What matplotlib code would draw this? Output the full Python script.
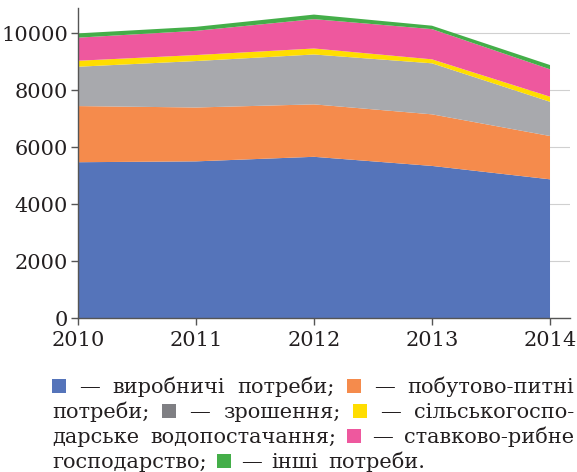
import matplotlib
matplotlib.use("Agg")
import matplotlib.pyplot as plt
from matplotlib.patches import Rectangle

years = [2010, 2011, 2012, 2013, 2014]
industrial = [5470, 5500, 5660, 5340, 4870]
household = [1970, 1890, 1840, 1810, 1520]
irrigation = [1380, 1630, 1750, 1790, 1200]
rural_supply = [210, 210, 210, 140, 180]
fish_ponds = [810, 850, 1030, 1060, 960]
other = [150, 140, 160, 120, 150]

series = [industrial, household, irrigation, rural_supply, fish_ponds, other]
colors = ["#5574BA", "#F58B4C", "#A8A9AD", "#FFDD00", "#EE589E", "#44AE49"]
legend_colors = ["#5574BA", "#F58B4C", "#7F7F83", "#FFDD00", "#EE589E", "#44AE49"]
yticks = [0, 2000, 4000, 6000, 8000, 10000]

TEXT = "#231F20"
FONT = "DejaVu Serif"
plt.rcParams["font.family"] = [FONT]

fig = plt.figure(figsize=(5.77, 4.72), dpi=100)
ax = fig.add_axes([0.135, 0.326, 0.853, 0.657])

ax.stackplot(years, *series, colors=colors, linewidth=0, zorder=2)
ax.set_xlim(2010, 2014.17)
ax.set_ylim(0, 10880)
ax.set_xticks(years)
ax.set_yticks(yticks)
ax.yaxis.grid(True, color="#D0D0D0", linewidth=0.8, zorder=0)
ax.set_axisbelow(True)
for s in ("top", "right"):
    ax.spines[s].set_visible(False)
for s in ("left", "bottom"):
    ax.spines[s].set_color("#555555")
    ax.spines[s].set_linewidth(1.0)
    ax.spines[s].set_zorder(3)
ax.tick_params(axis="both", colors="#555555", labelcolor=TEXT, labelsize=15,
               length=5, width=1.0, direction="out")
ax.tick_params(axis="x", pad=4)
ax.tick_params(axis="y", pad=2)

# justified legend paragraph below the chart
W, H = fig.get_size_inches() * fig.dpi
sq = 14
fs = 15
lines = [
    [("sq", 0), "—", "виробничі", "потреби;", ("sq", 1), "—", "побутово-питні"],
    ["потреби;", ("sq", 2), "—", "зрошення;", ("sq", 3), "—", "сільськогоспо-"],
    ["дарське", "водопостачання;", ("sq", 4), "—", "ставково-рибне"],
    ["господарство;", ("sq", 5), "—", "інші", "потреби."],
]
x0, x1 = 52, 574
baselines = [393, 418, 443, 468]
renderer = fig.canvas.get_renderer()


def width_of(tok):
    if isinstance(tok, tuple):
        return sq
    t = fig.text(0, 0, tok, fontsize=fs, family=FONT)
    w = t.get_window_extent(renderer).width
    t.remove()
    return w


for i, (toks, yb) in enumerate(zip(lines, baselines)):
    widths = [width_of(t) for t in toks]
    last = i == len(lines) - 1
    gap = 10 if last else (x1 - x0 - sum(widths)) / (len(toks) - 1)
    x = x0
    for tok, w in zip(toks, widths):
        if isinstance(tok, tuple):
            fig.add_artist(Rectangle((x / W, (H - yb) / H), sq / W, sq / H,
                                     transform=fig.transFigure,
                                     color=legend_colors[tok[1]], lw=0))
        else:
            fig.text(x / W, (H - yb) / H, tok, fontsize=fs, family=FONT,
                     color=TEXT, va="baseline", ha="left")
        x += w + gap

fig.savefig("out.png", dpi=100)
